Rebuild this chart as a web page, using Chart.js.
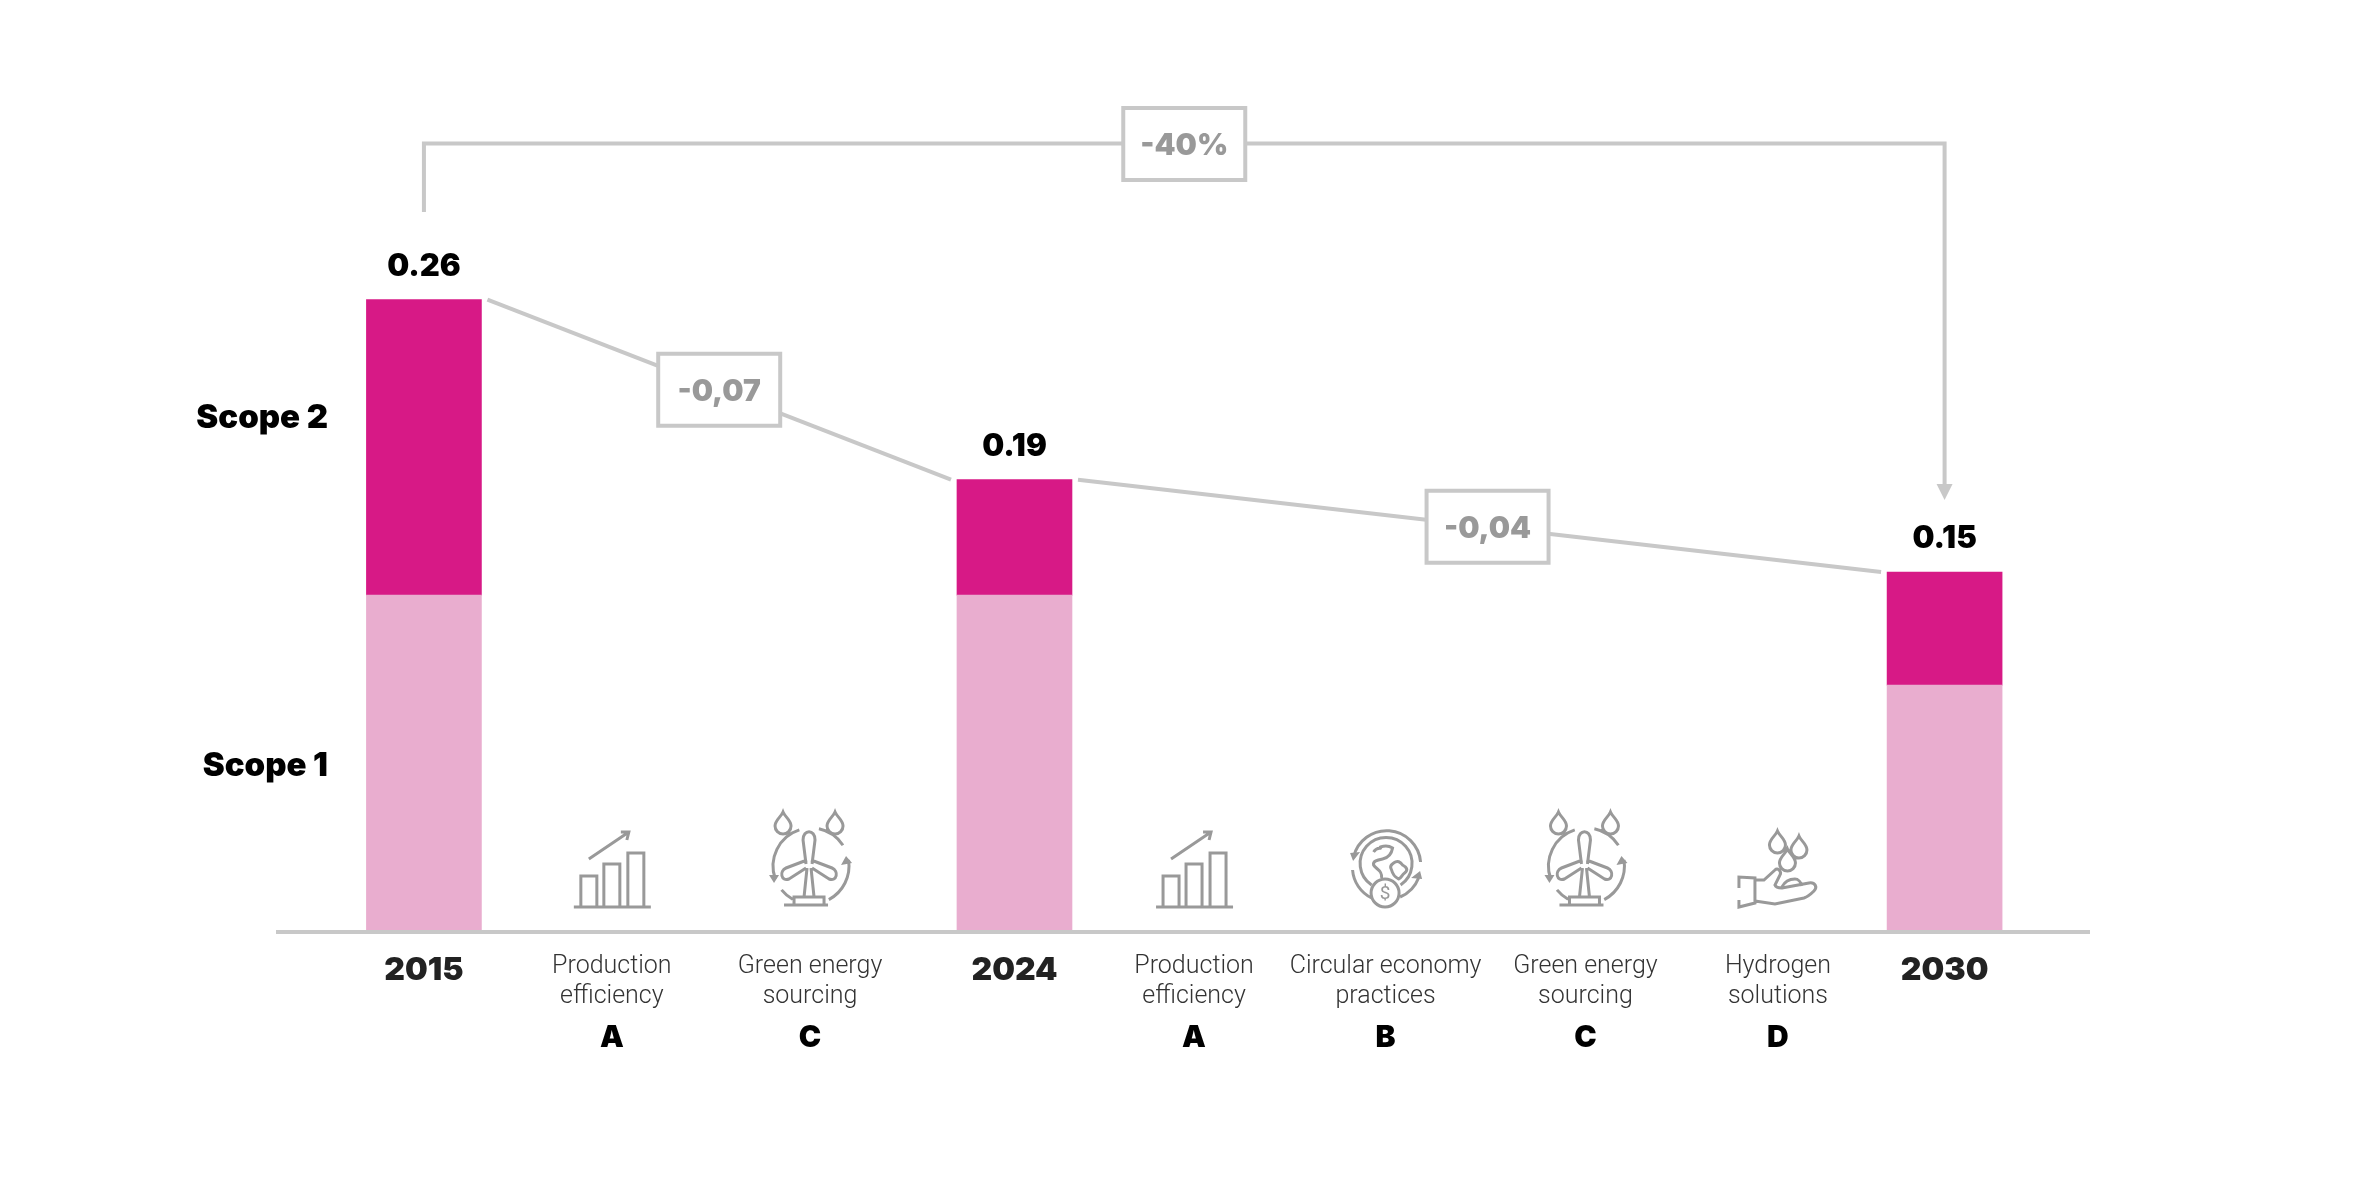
<!DOCTYPE html>
<html lang="en">

<head>
    <meta charset="UTF-8">
    <title>Emissions intensity 2015-2030</title>
    <script src="https://cdn.jsdelivr.net/npm/chart.js"></script>
    <style>
        body {
            background-color: #ffffff;
            margin: 0;
        }

        canvas {
            display: block;
        }
    </style>
</head>

<body>

    <canvas id="bridge" width="2362" height="1181"></canvas>

    <script>
        // Axis slots, left to right
        const slotLabels = ['2015', ['Production', 'efficiency'], ['Green energy', 'sourcing'], '2024',
            ['Production', 'efficiency'], ['Circular economy', 'practices'], ['Green energy', 'sourcing'],
            ['Hydrogen', 'solutions'], '2030'];
        const slotLetters = ['', 'A', 'C', '', 'A', 'B', 'C', 'D', ''];
        const slotIcons = [null, 'bars', 'turbine', null, 'bars', 'cycle', 'turbine', 'hand', null];
        const slotPositions = [0, 0.989, 2.032, 3.108, 4.053, 5.061, 6.113, 7.126, 8.003];

        // Bars
        const barSlots = [0, 3, 8];
        const scope1 = [0.1385, 0.1385, 0.1015];
        const scope2 = [0.1215, 0.0475, 0.0465];
        const totalLabels = ['0.26', '0.19', '0.15'];

        // Annotations
        const stepLabels = ['-0,07', '-0,04'];
        const overallLabel = '-40%';

        const HEAVY = '"Inter", sans-serif';
        const LINE = '#c8c8c8';
        const GREY = '#999999';

        function drop(x, y) {
            return `M${x},${y - 11} C${x + 2},${y - 6} ${x + 8},${y - 3} ${x + 8},${y + 3} A8,8 0 0 1 ${x - 8},${y + 3} C${x - 8},${y - 3} ${x - 2},${y - 6} ${x},${y - 11} Z `;
        }

        // Icon outlines, origin at the slot centre on the axis line
        const iconStrokes = {
            bars: 'M-38,-25 H39 M-31,-25 V-56 H-15 V-25 M-8,-25 V-68 H8 V-25 M16,-25 V-79 H32 V-25 M-23,-73 L17,-100 M9,-100 H17 L15,-92',
            turbine: 'M-4,-68 L-7,-92 C-7,-103 5,-103 5,-92 L2,-68 ' +
                'M-3,-72 L-24,-64 C-31,-61 -29,-50 -21,-53 L-4,-64 ' +
                'M1,-72 L22,-64 C29,-61 27,-50 19,-53 L2,-64 ' +
                'M-3,-64 L-6,-35 M1,-64 L4,-35 M-16,-27 V-35 H14 V-27 M-26,-27 H18 ' +
                'M-10.7,-102.1 A38,38 0 0 0 -34.7,-53 M8.9,-103.2 A38,38 0 0 1 32.9,-86.7 ' +
                'M-28.5,-42.1 A38,38 0 0 0 -17.4,-32.8 M18.8,-32.4 A38,38 0 0 0 38.5,-71.9 ' +
                drop(-27, -109) + drop(25, -109),
            cycle: 'M-32,-75 A34,34 0 0 1 35,-70 M-33,-62 A34,34 0 0 0 -14,-34 M14.5,-35 A34,34 0 0 0 33,-54 ' +
                'M-14,-47 A26,26 0 1 1 15,-47 ' +
                'M-12,-80 C-8,-86 -4,-82 -5,-85 C0,-87 4,-86 7,-84 C6,-78 2,-74 -3,-73 C-8,-72 -13,-71 -12,-67 C-10,-63 -3,-62 -4,-54 ' +
                'M8,-69 C12,-72 15,-70 17,-67 C21,-65 23,-62 19,-59 C16,-57 16,-54 13,-53 C9,-55 7,-58 6,-62 C4,-65 5,-67 8,-69 Z ' +
                'M-14.5,-39 A14,14 0 1 1 13.5,-39 A14,14 0 1 1 -14.5,-39',
            hand: 'M-39,-44 V-55 L-23,-54 V-29 L-39,-25 V-32 ' +
                'M-23,-52 H-14 L-3,-62 C0,-65 4,-60 2,-57 L-3,-47 C-2,-44 2,-44 4,-44 L31,-49 C37,-50 40,-45 36,-41 C32,-37 29,-35 26,-34 L-3,-28 L-23,-31 ' +
                'M4,-45 C7,-51 12,-53 17,-53 C20,-53 23,-50 24,-46 ' +
                drop(-0.5, -90) + drop(21, -85) + drop(9.5, -72)
        };
        const iconFills = {
            turbine: 'M-41,-57 H-31 L-36,-49 Z M31,-67 L42,-69 L36,-76 Z',
            cycle: 'M-35.5,-79 L-25.5,-80 L-32.5,-71 Z M36.5,-53 L25.5,-54 L34.5,-61 Z'
        };

        function boxedLabel(ctx, text, cx, cy) {
            ctx.fillStyle = '#ffffff';
            ctx.strokeStyle = LINE;
            ctx.lineWidth = 4;
            ctx.beginPath();
            ctx.rect(cx - 61, cy - 36, 122, 72);
            ctx.fill();
            ctx.stroke();
            ctx.fillStyle = GREY;
            ctx.font = `900 30px ${HEAVY}`;
            ctx.textAlign = 'center';
            ctx.textBaseline = 'middle';
            ctx.fillText(text, cx, cy + 2);
        }

        const annotations = {
            id: 'annotations',
            afterDraw(chart) {
                const { ctx, scales: { x, y } } = chart;
                const half = chart.getDatasetMeta(0).data[0].width / 2;
                const barX = barSlots.map(s => x.getPixelForValue(slotPositions[s]));
                const barTop = scope1.map((v, i) => y.getPixelForValue(v + scope2[i]));

                ctx.save();

                // Totals above the bars
                ctx.fillStyle = '#000000';
                ctx.font = `900 31px ${HEAVY}`;
                ctx.textAlign = 'center';
                ctx.textBaseline = 'middle';
                totalLabels.forEach((t, i) => ctx.fillText(t, barX[i], barTop[i] - 33));

                // Series names left of the first bar
                ctx.font = `900 33px ${HEAVY}`;
                ctx.textAlign = 'right';
                ctx.fillText('Scope 2', 328, 418);
                ctx.fillText('Scope 1', 328, 766);

                // Step connectors between the bars
                ctx.strokeStyle = LINE;
                ctx.lineWidth = 4;
                for (let i = 0; i < 2; i++) {
                    const x0 = barX[i] + half + 6;
                    const x1 = barX[i + 1] - half - 6;
                    ctx.beginPath();
                    ctx.moveTo(x0, barTop[i]);
                    ctx.lineTo(x1, barTop[i + 1]);
                    ctx.stroke();
                    const f = i === 0 ? 0.5 : 0.51;
                    boxedLabel(ctx, stepLabels[i], x0 + (x1 - x0) * f, barTop[i] + (barTop[i + 1] - barTop[i]) * f);
                }

                // Overall bracket from first to last bar
                ctx.strokeStyle = LINE;
                ctx.lineWidth = 4;
                ctx.beginPath();
                ctx.moveTo(barX[0], 212);
                ctx.lineTo(barX[0], 143.5);
                ctx.lineTo(barX[2], 143.5);
                ctx.lineTo(barX[2], 486);
                ctx.stroke();
                ctx.fillStyle = LINE;
                ctx.beginPath();
                ctx.moveTo(barX[2] - 8, 484);
                ctx.lineTo(barX[2] + 8, 484);
                ctx.lineTo(barX[2], 500);
                ctx.fill();
                boxedLabel(ctx, overallLabel, (barX[0] + barX[2]) / 2, 144);

                // Slot icons and letters
                slotIcons.forEach((name, i) => {
                    const px = x.getPixelForValue(slotPositions[i]);
                    ctx.fillStyle = '#000000';
                    ctx.font = `900 30px ${HEAVY}`;
                    ctx.textAlign = 'center';
                    ctx.textBaseline = 'middle';
                    ctx.fillText(slotLetters[i], px, 1038);
                    if (!name) return;
                    ctx.save();
                    ctx.translate(px, y.bottom);
                    ctx.strokeStyle = GREY;
                    ctx.fillStyle = GREY;
                    ctx.lineWidth = 3;
                    ctx.stroke(new Path2D(iconStrokes[name]));
                    if (iconFills[name]) ctx.fill(new Path2D(iconFills[name]));
                    if (name === 'cycle') {
                        ctx.font = '400 19px "Roboto", sans-serif';
                        ctx.fillText('$', -0.5, -38);
                    }
                    ctx.restore();
                });

                ctx.restore();
            }
        };

        new Chart(document.getElementById('bridge'), {
            type: 'bar',
            data: {
                datasets: [{
                    label: 'Scope 1',
                    data: barSlots.map((s, i) => ({ x: slotPositions[s], y: scope1[i] })),
                    backgroundColor: '#e9adcf',
                    barThickness: 115
                }, {
                    label: 'Scope 2',
                    data: barSlots.map((s, i) => ({ x: slotPositions[s], y: scope2[i] })),
                    backgroundColor: '#d71986',
                    barThickness: 115
                }]
            },
            options: {
                responsive: false,
                animation: false,
                devicePixelRatio: 1,
                layout: { padding: { left: 278, right: 273, top: 20, bottom: 0 } },
                plugins: {
                    legend: { display: false },
                    tooltip: { enabled: false }
                },
                scales: {
                    x: {
                        type: 'linear',
                        stacked: true,
                        offset: false,
                        min: -0.768,
                        max: 8.763,
                        afterBuildTicks(scale) {
                            scale.ticks = slotPositions.map(v => ({ value: v }));
                        },
                        afterFit(scale) {
                            scale.height = 249;
                        },
                        grid: { display: false, drawTicks: false },
                        border: { color: LINE, width: 4, z: 1 },
                        ticks: {
                            autoSkip: false,
                            maxRotation: 0,
                            padding: 20,
                            callback: (value, index) => slotLabels[index],
                            color: ctx => Array.isArray(slotLabels[ctx.index]) ? '#333333' : '#222222',
                            font: ctx => Array.isArray(slotLabels[ctx.index])
                                ? { family: 'Roboto', size: 25, weight: 300, lineHeight: 1.2 }
                                : { family: 'Inter', size: 32, weight: 900, lineHeight: 1.15 }
                        }
                    },
                    y: {
                        display: false,
                        stacked: true,
                        min: 0,
                        max: 0.375
                    }
                }
            },
            plugins: [annotations]
        });
    </script>

</body>

</html>
